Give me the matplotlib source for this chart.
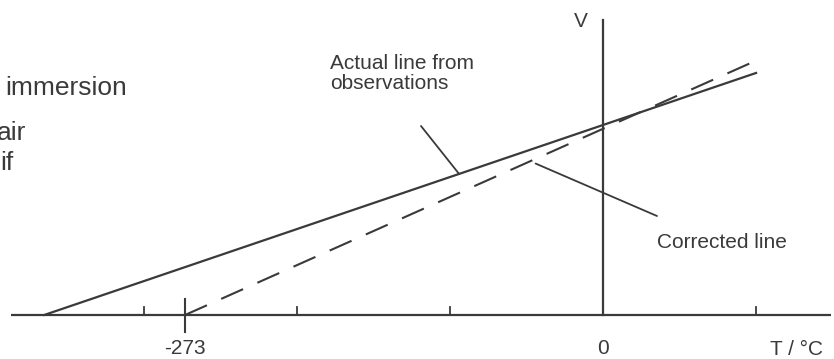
import matplotlib.pyplot as plt

# temperature axis (deg C) and the two lines
t_actual = [-365, 100]
t_corrected = [-273, 100]
v_at_zero_actual = 1.0
v_at_zero_corrected = 0.98
minor_ticks = [-300, -200, -100, 100]
tick_labels = {-273: '-273', 0: '0'}

ink = '#3a3a3a'
plt.rcParams['font.family'] = ['Liberation Sans', 'DejaVu Sans']

W, H = 834, 359
fig = plt.figure(figsize=(W / 100, H / 100), dpi=100)
ax = fig.add_axes([0, 0, 1, 1])
# 1.531 px per deg C, origin at x=603 px ; 190 px per unit V, baseline at y=315 px
ax.set_xlim(-603 / 1.531, (W - 603) / 1.531)
ax.set_ylim(-(H - 315) / 190, 315 / 190)
ax.axis('off')


def actual(t):
    return v_at_zero_actual * (t - t_actual[0]) / (-t_actual[0])


def corrected(t):
    return v_at_zero_corrected * (t - t_corrected[0]) / (-t_corrected[0])


def fpx(x, y):
    return x / W, 1 - y / H


# axes
ax.plot([-387, 149], [0, 0], color=ink, lw=1.6, solid_capstyle='butt')
ax.plot([0, 0], [0, 1.553], color=ink, lw=1.6)
for t in minor_ticks:
    ax.plot([t, t], [0, 8 / 190], color=ink, lw=1.3)
ax.plot([-273, -273], [-17 / 190, 16 / 190], color=ink, lw=1.5)

# lines
ax.plot(t_actual, [actual(t) for t in t_actual], color=ink, lw=1.6)
dl, = ax.plot(t_corrected, [corrected(t) for t in t_corrected], color=ink, lw=1.5)
dl.set_dashes((11.5, 7.5))

# labels
fs = 15
for t, s in tick_labels.items():
    ax.text(t, -24 / 190, s, ha='center', va='top', fontsize=fs, color=ink)
fig.text(*fpx(823, 355), 'T / °C', ha='right', va='baseline', fontsize=fs, color=ink)
fig.text(*fpx(581, 27), 'V', ha='center', va='baseline', fontsize=fs, color=ink)

fig.text(*fpx(330, 89), 'Actual line from\nobservations', ha='left', va='baseline',
         fontsize=fs, color=ink, linespacing=1.05)
fig.text(*fpx(657, 248), 'Corrected line', ha='left', va='baseline', fontsize=fs, color=ink)

# leader lines
ax.annotate('', xy=(-94, actual(-94)), xytext=((421 - 603) / 1.531, (315 - 126) / 190),
            arrowprops=dict(arrowstyle='-', color=ink, lw=1.3, shrinkA=0, shrinkB=0))
ax.annotate('', xy=(-44, corrected(-44) - 0.025), xytext=((657 - 603) / 1.531, (315 - 216) / 190),
            arrowprops=dict(arrowstyle='-', color=ink, lw=1.3, shrinkA=0, shrinkB=0))

# clipped text fragments at the left edge
fig.text(*fpx(5, 95), 'immersion', ha='left', va='baseline', fontsize=19, color=ink)
fig.text(*fpx(26, 140), 'air', ha='right', va='baseline', fontsize=19, color=ink)
fig.text(*fpx(13, 170), 'if', ha='right', va='baseline', fontsize=19, color=ink)

plt.savefig('out.png', dpi=100)
